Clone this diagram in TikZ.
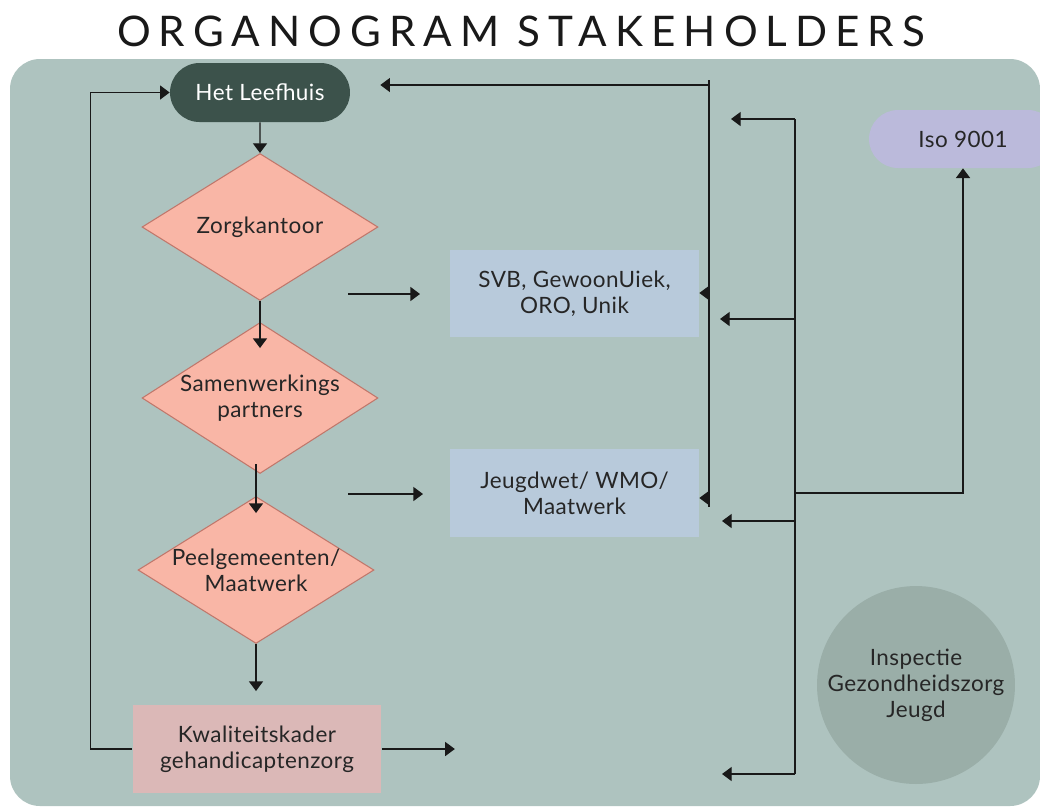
\documentclass[tikz,border=0pt]{standalone}
\usepackage{fontspec}
\setmainfont{Lato}[LetterSpace=2]
\newfontfamily\titlefont{Lato}[LetterSpace=19]
\usetikzlibrary{shapes.geometric,shapes.misc,arrows.meta}
\definecolor{panel}{HTML}{AEC3BF}
\definecolor{leefgroen}{HTML}{3C524B}
\definecolor{zalm}{HTML}{F9B6A6}
\definecolor{zalmrand}{HTML}{C0776B}
\definecolor{oudroze}{HTML}{DBB8B7}
\definecolor{lichtblauw}{HTML}{B8CADB}
\definecolor{lila}{HTML}{BBBADB}
\definecolor{grijsgroen}{HTML}{9AAEA8}

\begin{document}
\begin{tikzpicture}[x=0.02cm,y=-0.02cm,
  >={Triangle[width=8pt,length=5.5pt]},
  txt/.style={font=\fontsize{12.8}{14.8}\selectfont,text=black!85,align=center},
  pil/.style={rounded rectangle,minimum width=3.6cm,minimum height=1.18cm,inner sep=0pt,txt},
  besluit/.style={diamond,draw=zalmrand,fill=zalm,line width=0.6pt,minimum width=4.72cm,minimum height=2.94cm,inner sep=0pt},
  blok/.style={rectangle,minimum width=4.98cm,minimum height=1.75cm,inner sep=0pt,txt},
  lijn/.style={line width=0.75pt,black!90}]
\useasboundingbox (0,0) rectangle (1040,806);
\fill [panel,rounded corners=0.6cm] (10,59) rectangle (1040,806);
\node [text=black!90] (titel) at (521,31) {\titlefont\fontsize{24}{28}\selectfont ORGANOGRAM STAKEHOLDERS};

\node [pil,fill=leefgroen,text=white!92] (leef) at (260,92.5) {Het Leefhuis};
\node [besluit,label={[txt]center:Zorgkantoor}] (zorg) at (260,227) {};
\node [besluit,minimum height=3.02cm,label={[txt]center:Samenwerkings\\partners}] (samen) at (260,398) {};
\node [besluit,label={[txt]center:Peelgemeenten/\\Maatwerk}] (peel) at (256,570) {};
\node [blok,fill=oudroze] (kwal) at (257,749) {Kwaliteitskader\\gehandicaptenzorg};
\node [blok,fill=lichtblauw] (svb) at (574.5,293.5) {SVB, GewoonUiek,\\ORO, Unik};
\node [blok,fill=lichtblauw] (jeugd) at (574.5,493) {Jeugdwet/ WMO/\\Maatwerk};
\node [pil,fill=lila,minimum width=3.76cm,minimum height=1.16cm] (iso) at (963,139) {Iso 9001};
\node [circle,fill=grijsgroen,minimum size=3.96cm,inner sep=0pt,txt] (igj) at (916,685) {Inspectie\\Gezondheidszorg\\Jeugd};

\coordinate (aboven) at (709,80);
\coordinate (aonder) at (709,507);
\coordinate (bboven) at (795,119);
\coordinate (bonder) at (795,774);

\draw [lijn,->] (leef) -- (zorg);
\draw [lijn,->] (zorg.south) -- ++(0,47);
\draw [lijn,->] ([shift={(-4,-10)}]samen.south) -- ++(0,49);
\draw [lijn,->] (peel.south) -- ++(0,47);
\draw [lijn,->] (kwal.west) -- ++(-42,0) |- (leef.west);
\draw [lijn,->] (kwal.east) -- ++(73,0);
\draw [lijn,->] (348,294) -- (420,294);
\draw [lijn,->] (348,494) -- (423,494);

\draw [lijn] (aboven) -- (aonder);
\draw [lijn,->,shorten >=0.6cm] (709,85) -- (leef.east |- 0,85);
\draw [lijn,->] (709,293) -- (svb.east |- 0,293);
\draw [lijn,->] (709,498) -- (jeugd.east |- 0,498);

\draw [lijn] (bboven) -- (bonder);
\draw [lijn,->] (bboven) -- (731,119);
\draw [lijn,->] (795,319) -- (720,319);
\draw [lijn,->] (795,521) -- (722,521);
\draw [lijn,->] (bonder) -- (722,774);
\draw [lijn,->] (795,493) -| (iso.south);
\end{tikzpicture}
\end{document}
